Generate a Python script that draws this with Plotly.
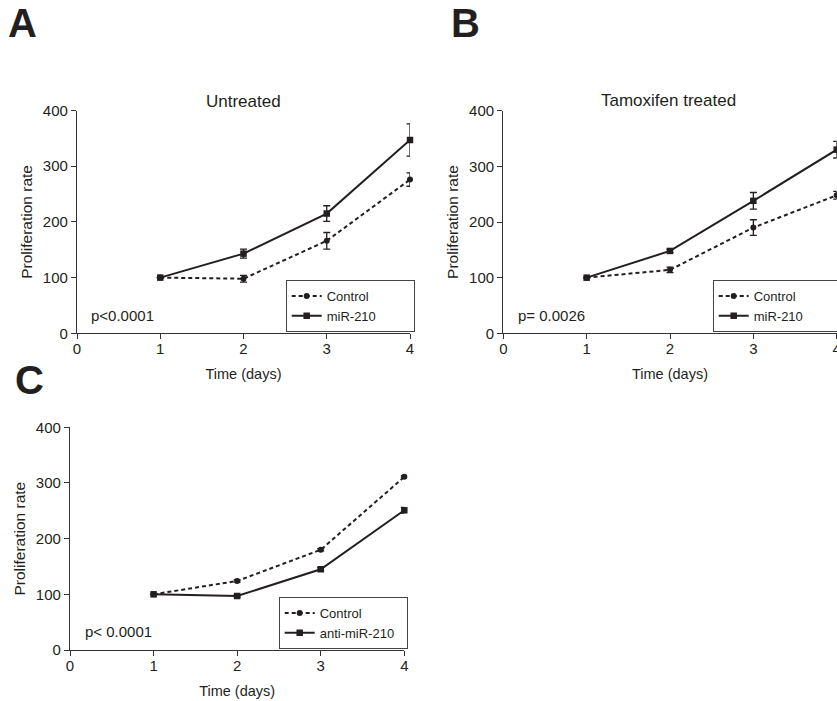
import plotly.graph_objects as go

days = [1, 2, 3, 4]

# Panel A - Untreated
a_control = [100, 98, 166, 276]
a_control_err = [0, 6, 15, 12]
a_mir = [100, 143, 215, 347]
a_mir_err = [0, 8, 14, 29]

# Panel B - Tamoxifen treated
b_control = [100, 114, 190, 248]
b_control_err = [0, 5, 14, 7]
b_mir = [100, 148, 238, 330]
b_mir_err = [0, 3, 15, 15]

# Panel C
c_control = [100, 124, 180, 311]
c_control_err = [0, 2, 2, 2]
c_anti = [100, 97, 145, 251]
c_anti_err = [0, 2, 3, 5]

y_ticks = [0, 100, 200, 300, 400]
x_ticks = [0, 1, 2, 3, 4]

NB = "\u00a0"
W, H = 837, 701
FONT = "Liberation Sans, Arial, sans-serif"
INK = "#231f20"


def px_x(p):
    return p / W


def px_y(p):
    return 1 - p / H


fig = go.Figure()


def add_pair(xa, ya, ctrl, ctrl_err, other, other_err, other_name, legend):
    fig.add_trace(go.Scatter(
        x=days, y=ctrl, name="Control", xaxis=xa, yaxis=ya, legend=legend,
        mode="lines+markers", cliponaxis=False,
        line=dict(color=INK, width=2, dash="4px,3px"),
        marker=dict(symbol="circle", size=6, color=INK),
        error_y=dict(type="data", array=ctrl_err, visible=True, color=INK,
                     thickness=1.3, width=3.5),
    ))
    fig.add_trace(go.Scatter(
        x=days, y=other, name=other_name, xaxis=xa, yaxis=ya, legend=legend,
        mode="lines+markers", cliponaxis=False,
        line=dict(color=INK, width=2),
        marker=dict(symbol="square", size=6.5, color=INK),
        error_y=dict(type="data", array=other_err, visible=True, color=INK,
                     thickness=1.3, width=3.5),
    ))


add_pair("x", "y", a_control, a_control_err, a_mir, a_mir_err, "miR-210" + NB * 9, "legend")
add_pair("x2", "y2", b_control, b_control_err, b_mir, b_mir_err, "miR-210" + NB * 9, "legend2")
add_pair("x3", "y3", c_control, c_control_err, c_anti, c_anti_err, "anti-miR-210" + NB * 2, "legend3")

axis_common = dict(
    showgrid=False, zeroline=False, showline=True, linecolor="#333333",
    linewidth=1.3, ticks="outside", ticklen=5, tickwidth=1.3,
    tickcolor="#333333", tickfont=dict(family=FONT, size=15, color=INK),
    ticklabeloverflow="allow",
)

panels = [
    # x0, x1, ytop, ybottom
    (77, 410, 110.5, 333.3),
    (503.3, 836.7, 110.7, 333.3),
    (70, 404.3, 427.3, 650),
]

layout = dict(
    width=W, height=H, margin=dict(l=0, r=0, t=0, b=0, autoexpand=False),
    paper_bgcolor="white", plot_bgcolor="white", showlegend=True,
    font=dict(family=FONT, color=INK),
)

for i, (x0, x1, yt, yb) in enumerate(panels):
    sfx = "" if i == 0 else str(i + 1)
    layout["xaxis" + sfx] = dict(
        axis_common, domain=[px_x(x0), px_x(x1)], range=[0, 4],
        tickvals=x_ticks, anchor="y" + sfx, ticklabelstandoff=-3,
        title=dict(text="Time (days)", standoff=12,
                   font=dict(family=FONT, size=14.5, color=INK)),
    )
    layout["yaxis" + sfx] = dict(
        axis_common, domain=[px_y(yb), px_y(yt)], range=[0, 400],
        tickvals=y_ticks, anchor="x" + sfx,
        title=dict(text="Proliferation rate", standoff=6,
                   font=dict(family=FONT, size=15.5, color=INK)),
    )

legend_style = dict(
    xanchor="left", yanchor="top", bgcolor="white", bordercolor="#444444",
    borderwidth=1, font=dict(family=FONT, size=13, color=INK),
    tracegroupgap=0, itemwidth=30,
)
layout["legend"] = dict(legend_style, x=px_x(285.7), y=px_y(280))
layout["legend2"] = dict(legend_style, x=px_x(712.7), y=px_y(280))
layout["legend3"] = dict(legend_style, x=px_x(278.7), y=px_y(597))

fig.update_layout(**layout)

annotations = [
    dict(text="A", x=px_x(22.5), y=px_y(22.6), size=40, bold=True),
    dict(text="B", x=px_x(465), y=px_y(22.6), size=40, bold=True),
    dict(text="C", x=px_x(29), y=px_y(380), size=40, bold=True),
    dict(text="Untreated", x=px_x(243), y=px_y(101), size=17, bold=False),
    dict(text="Tamoxifen treated", x=px_x(668), y=px_y(100.5), size=17, bold=False),
]
for a in annotations:
    fig.add_annotation(
        text=("<b>%s</b>" % a["text"]) if a["bold"] else a["text"],
        x=a["x"], y=a["y"], xref="paper", yref="paper",
        xanchor="center", yanchor="middle", showarrow=False,
        font=dict(family=FONT, size=a["size"], color=INK),
    )

pvals = [
    ("p<0.0001", 89, 315),
    ("p= 0.0026", 516, 315),
    ("p< 0.0001", 82.7, 631),
]
for t, x, y in pvals:
    fig.add_annotation(
        text=t, x=px_x(x), y=px_y(y), xref="paper", yref="paper",
        xanchor="left", yanchor="middle", showarrow=False,
        font=dict(family=FONT, size=15, color=INK),
    )

fig.write_html("out.html", config={"displayModeBar": False},
               post_script="document.body.style.margin='0';")
